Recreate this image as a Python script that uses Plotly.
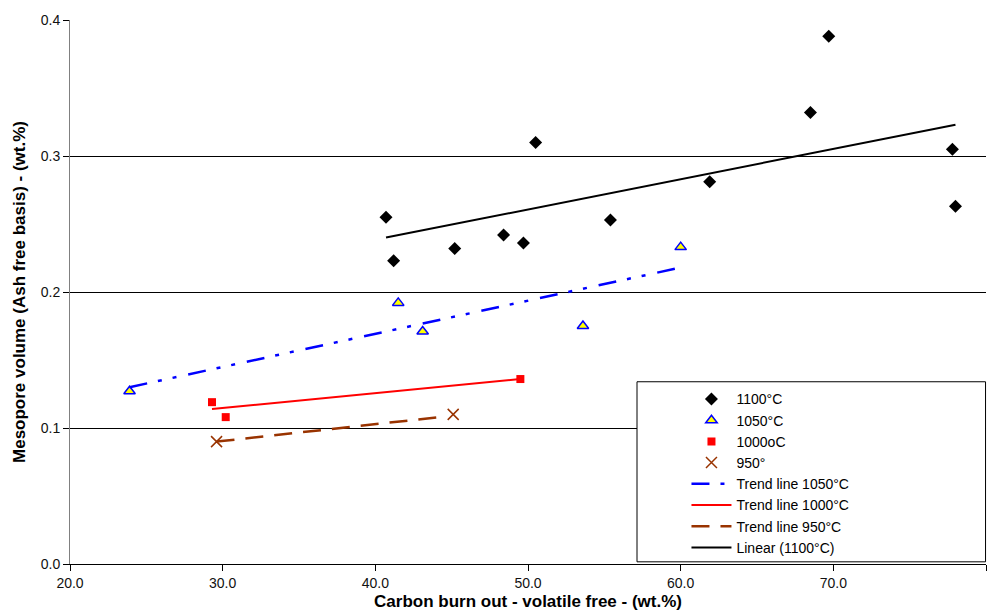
import plotly.graph_objects as go

# ---- data ----
x_1100 = [40.7, 41.2, 45.2, 48.4, 49.7, 50.5, 55.4, 61.9, 68.5, 69.7, 77.8, 78.0]
y_1100 = [0.255, 0.223, 0.232, 0.242, 0.236, 0.310, 0.253, 0.281, 0.332, 0.388, 0.305, 0.263]

x_1050 = [23.9, 41.5, 43.1, 53.6, 60.0]
y_1050 = [0.127, 0.192, 0.171, 0.175, 0.233]

x_1000 = [29.3, 30.2, 49.5]
y_1000 = [0.119, 0.108, 0.136]

x_950 = [29.6, 45.1]
y_950 = [0.090, 0.110]

# trend line end points
trend_1050_x = [23.9, 60.0]
trend_1050_y = [0.130, 0.218]
trend_1000_x = [29.3, 49.5]
trend_1000_y = [0.114, 0.136]
trend_950_x = [29.6, 44.2]
trend_950_y = [0.090, 0.108]
trend_1100_x = [40.7, 78.0]
trend_1100_y = [0.240, 0.323]

x_ticks = [20, 30, 40, 50, 60, 70, 80]
x_tick_labels = ["20.0", "30.0", "40.0", "50.0", "60.0", "70.0", "80.0"]
y_ticks = [0.0, 0.1, 0.2, 0.3, 0.4]
y_tick_labels = ["0.0", "0.1", "0.2", "0.3", "0.4"]

brown = "#993300"
FONT = "Liberation Sans, Arial, sans-serif"

fig = go.Figure()
fig.add_trace(go.Scatter(x=x_1100, y=y_1100, mode="markers", name="1100°C",
                         marker=dict(symbol="diamond", size=10, color="black")))
fig.add_trace(go.Scatter(x=x_1050, y=y_1050, mode="markers", name="1050°C",
                         marker=dict(symbol="triangle-up", size=10, color="#ffff00",
                                     line=dict(color="#0000ff", width=1.5))))
fig.add_trace(go.Scatter(x=x_1000, y=y_1000, mode="markers", name="1000oC",
                         marker=dict(symbol="square", size=8, color="#ff0000")))
fig.add_trace(go.Scatter(x=x_950, y=y_950, mode="markers", name="950°",
                         marker=dict(symbol="x-thin-open", size=11,
                                     line=dict(color=brown, width=1.5), color=brown)))
fig.add_trace(go.Scatter(x=trend_1050_x, y=trend_1050_y, mode="lines", name="Trend line 1050°C",
                         line=dict(color="#0000ff", width=2.5, dash="18px,11px,4px,11px,4px,12px")))
fig.add_trace(go.Scatter(x=trend_1000_x, y=trend_1000_y, mode="lines", name="Trend line 1000°C",
                         line=dict(color="#ff0000", width=2)))
fig.add_trace(go.Scatter(x=trend_950_x, y=trend_950_y, mode="lines", name="Trend line 950°C",
                         line=dict(color=brown, width=2.5, dash="18px,11px")))
fig.add_trace(go.Scatter(x=trend_1100_x, y=trend_1100_y, mode="lines", name="Linear (1100°C)",
                         line=dict(color="black", width=2)))

fig.update_layout(
    width=999, height=612,
    margin=dict(l=70, r=13, t=20, b=48, autoexpand=False),
    paper_bgcolor="white", plot_bgcolor="white",
    font=dict(family=FONT, color="black"),
    showlegend=True,
    legend=dict(x=0.673, y=0.332, xanchor="left", yanchor="top",
                bgcolor="rgba(0,0,0,0)", borderwidth=0,
                font=dict(size=14, family=FONT, color="black"),
                tracegroupgap=0, itemwidth=40),
    shapes=[dict(type="rect", xref="paper", yref="paper",
                 x0=0.619, x1=0.9995, y0=0.004, y1=0.335,
                 line=dict(color="black", width=1), fillcolor="white", layer="above")],
)

fig.update_xaxes(range=[20, 80], tickvals=x_ticks, ticktext=x_tick_labels,
                 automargin=False,
                 showgrid=False, zeroline=False, showline=True, linecolor="black", linewidth=1,
                 ticks="outside", ticklen=6, tickcolor="black",
                 tickfont=dict(size=14, family=FONT, color="#111111"),
                 title=dict(text="<b>Carbon burn out - volatile free - (wt.%)</b>",
                            font=dict(size=17, family=FONT), standoff=5))
fig.update_yaxes(range=[0, 0.4], tickvals=y_ticks, ticktext=y_tick_labels,
                 automargin=False,
                 showgrid=True, gridcolor="black", gridwidth=1, zeroline=False,
                 showline=True, linecolor="#808080", linewidth=1,
                 ticks="outside", ticklen=6, tickcolor="black",
                 tickfont=dict(size=14, family=FONT, color="#111111"),
                 title=dict(text="<b>Mesopore volume (Ash free basis) - (wt.%)</b>",
                            font=dict(size=17, family=FONT), standoff=10))

fig.write_html("out.html")
